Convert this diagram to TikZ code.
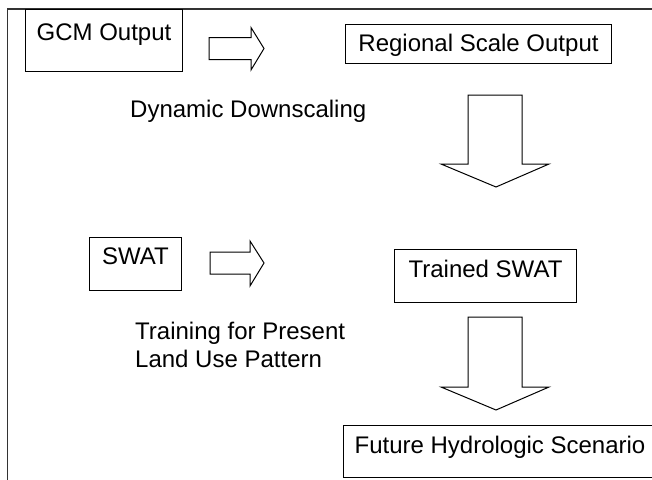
\documentclass[tikz,border=0pt]{standalone}
\usepackage{fontspec}
\setmainfont{Liberation Sans}
\begin{document}
\begin{tikzpicture}[x=1pt,y=-1pt,
  every node/.style={font=\fontsize{24}{28}\selectfont},
  box/.style={draw=black, line width=1pt, inner sep=0pt, anchor=north west},
  lbl/.style={inner sep=0pt, anchor=base west, align=left},
  blockarrow/.style={draw=black, line width=1pt, line join=miter},
  frame/.style={draw=black!80, line width=1.5pt}]
\useasboundingbox (0,0) rectangle (652,479);
% frame
\coordinate (fTL) at (7.5,9);
\coordinate (fTR) at (653,9);
\coordinate (fBL) at (7.5,480);
\draw[frame] (fTR) -- (fTL) -- (fBL);
% boxes
\node[box, minimum width=157pt, text height=31pt, text depth=31pt] (gcm) at (25,9) {GCM Output};
\node[box, minimum width=266pt, text height=27pt, text depth=12pt] (reg) at (345,24) {Regional Scale Output};
\node[box, minimum width=92pt, text height=27pt, text depth=26pt] (swat) at (89,237) {SWAT};
\node[box, minimum width=182pt, text height=28pt, text depth=25pt] (tswat) at (394,249) {Trained SWAT};
\node[box, minimum width=313pt, text height=28pt, text depth=24pt] (fut) at (343,425) {Future Hydrologic Scenario};
% labels
\node[lbl] (dyn) at (130,117) {Dynamic Downscaling};
\node[lbl] (train) at (135,367) {Training for Present\\Land Use Pattern};
% right block arrows
\draw[blockarrow] (209,37.5) -- (251,37.5) -- (251,27.5) -- (264,48.5) -- (251,70) -- (251,59.5) -- (209,59.5) -- cycle;
\draw[blockarrow] (210,252) -- (250,252) -- (250,241) -- (264,263) -- (250,286) -- (250,274) -- (210,274) -- cycle;
% down block arrows
\draw[blockarrow] (468,95) -- (522,95) -- (522,164) -- (549,164) -- (496,187) -- (441,164) -- (468,164) -- cycle;
\draw[blockarrow] (468,317) -- (522,317) -- (522,387) -- (549,387) -- (496,410) -- (441,387) -- (468,387) -- cycle;
\end{tikzpicture}
\end{document}
